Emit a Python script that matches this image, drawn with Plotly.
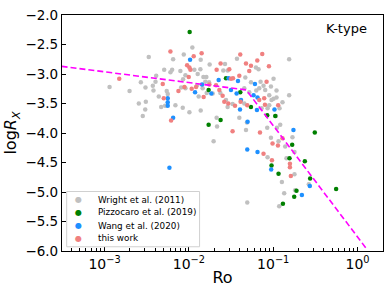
import numpy as np
import plotly.graph_objects as go

# Wright et al. (2011) -- log10(Ro), log(Rx)
wright_logro = [-2.476, -2.187, -2.293, -2.199, -2.219, -2.388, -2.941, -2.570, -2.515, -2.428,
                -2.396, -2.704, -2.263, -2.251, -2.357, -2.511, -2.594, -2.518, -2.329, -2.282,
                -2.547, -2.420,
                -1.959, -2.061, -1.860, -1.754, -2.101, -1.935, -1.864, -2.041, -2.069, -1.828,
                -1.793, -1.761, -1.805, -1.837, -1.903, -2.041, -2.092, -1.884, -1.789, -1.718,
                -1.627, -1.592, -1.572, -1.541, -1.560, -2.160, -2.073, -1.994, -1.860, -1.671,
                -1.541, -1.482, -1.666, -1.707, -1.896,
                -1.430, -0.811, -1.205, -1.174, -0.996, -1.331, -1.264, -1.150, -1.115, -1.027,
                -1.095, -1.166, -1.201, -1.343, -1.284, -0.961, -1.047, -0.996, -0.961, -1.020,
                -0.811, -0.890, -0.925, -1.067, -1.138, -1.343, -1.047, -0.968, -0.917, -1.402,
                -1.311, -1.071, -0.956, -1.323, -1.027, -0.937, -0.772, -0.858, -0.748, -1.067,
                -0.843, -0.748, -0.897, -0.870, -0.740, -0.578, -1.308, -0.929]
wright_logrx = [-2.71, -2.75, -2.93, -2.93, -2.97, -3.03, -3.22, -3.14, -3.23, -3.20,
                -3.13, -3.29, -3.29, -3.34, -3.38, -3.47, -3.50, -3.60, -3.56, -3.54,
                -3.71, -3.28,
                -2.55, -2.67, -2.76, -2.84, -2.95, -2.93, -2.92, -3.02, -3.09, -3.05,
                -3.05, -3.14, -3.13, -3.24, -3.19, -3.24, -3.23, -3.38, -3.32, -3.33,
                -3.32, -2.94, -2.83, -2.94, -3.44, -3.53, -3.57, -3.65, -3.62, -3.74,
                -3.56, -3.51, -3.89, -4.14, -3.00,
                -2.74, -2.75, -2.89, -2.92, -3.08, -3.06, -3.14, -3.13, -3.20, -3.21,
                -3.27, -3.24, -3.28, -3.24, -3.31, -3.28, -3.36, -3.42, -3.40, -3.44,
                -3.36, -3.48, -3.58, -3.58, -3.58, -3.50, -3.53, -3.71, -3.86, -3.74,
                -3.82, -3.91, -3.91, -3.95, -4.08, -4.14, -4.07, -4.23, -4.32, -4.41,
                -4.43, -4.70, -4.83, -5.02, -4.97, -4.87, -5.18, -5.24]

# Pizzocaro et al. (2019)
pizz_logro = [-1.991, -1.560, -1.766, -1.624, -1.766, -1.391, -1.264, -1.071, -0.976, -0.507,
              -0.775, -0.807, -0.625, -1.020, -0.937, -0.562, -0.254, -0.724, -0.751, -0.885]
pizz_logrx = [-2.29, -3.07, -3.27, -3.78, -3.86, -3.31, -3.56, -3.70, -3.71, -3.99,
              -4.20, -4.43, -4.48, -4.55, -4.69, -4.77, -4.95, -4.98, -5.08, -5.20]

# Wang et al. (2020)
wang_logro = [-2.251, -2.251, -2.251, -2.187, -2.231, -1.986, -1.647, -1.529, -1.927, -1.844,
              -1.734, -1.501, -1.418, -1.217, -1.233, -1.186, -1.434, -1.382, -1.394, -1.193,
              -0.985, -1.304, -0.760, -1.308, -1.186, -1.024, -0.566, -0.660]
wang_logrx = [-3.41, -3.48, -3.54, -3.74, -4.59, -2.76, -3.10, -3.07, -3.31, -3.18,
              -3.33, -3.27, -3.12, -3.17, -3.36, -3.40, -3.33, -3.44, -3.60, -3.61,
              -3.60, -3.81, -3.95, -4.28, -4.32, -4.62, -4.90, -5.05]

# this work
this_logro = [-2.219, -2.826, -2.310, -2.298, -2.211, -1.849, -1.943, -2.021, -1.994, -1.982,
              -2.002, -1.624, -1.671, -1.521, -1.501, -1.477, -2.124, -2.053, -1.967, -1.757,
              -1.678, -1.639, -1.600, -1.580, -1.533, -1.825, -1.915,
              -1.391, -1.130, -1.323, -1.264, -1.189, -1.402, -1.284, -1.051, -1.079, -1.107,
              -1.387, -1.308, -1.166, -1.098, -0.941, -1.453,
              -1.482, -1.157, -0.890, -1.008, -0.944, -1.115, -1.015, -0.802, -0.802, -0.791]
this_logrx = [-2.62, -3.08, -3.17, -3.41, -3.79, -2.65, -2.70, -2.85, -2.89, -2.93,
              -3.05, -2.82, -2.93, -2.92, -3.08, -3.07, -3.29, -3.22, -3.25, -3.18,
              -3.19, -3.27, -3.37, -3.47, -3.50, -3.39, -3.22,
              -2.67, -2.66, -2.82, -2.86, -2.77, -3.03, -2.95, -2.87, -3.13, -3.41,
              -3.47, -3.53, -3.44, -3.52, -3.53, -3.54,
              -3.97, -3.99, -4.09, -4.18, -4.21, -4.35, -4.46, -4.52, -4.58, -4.73]

# broken power-law fit
fit_logro = [-3.51, -1.32, 0.10]
fit_logrx = [-2.87, -3.27, -5.95]

# x tick labels
x_tickvals = [1e-3, 1e-2, 1e-1, 1e0]
x_ticktext = ["10<sup>\u22123</sup>", "10<sup>\u22122</sup>", "10<sup>\u22121</sup>", "10<sup>0</sup>"]

series_names = ["Wright et al. (2011)", "Pizzocaro et al. (2019)", "Wang et al. (2020)", "this work"]
series_x = [wright_logro, pizz_logro, wang_logro, this_logro]
series_y = [wright_logrx, pizz_logrx, wang_logrx, this_logrx]
series_colors = ["#c0c0c0", "#008000", "#1e90ff", "#f08080"]

FONT = "DejaVu Sans"
fig = go.Figure()
for name, lx, ly, col in zip(series_names, series_x, series_y, series_colors):
    fig.add_trace(go.Scatter(
        x=10 ** np.array(lx), y=ly, mode="markers", name=name, showlegend=False,
        marker=dict(color=col, size=4.5, line=dict(width=0)),
    ))

fig.add_trace(go.Scatter(
    x=10 ** np.array(fit_logro), y=fit_logrx, mode="lines", showlegend=False,
    line=dict(color="#ff00ff", width=1.6, dash="6px,3px"),
))

fig.add_annotation(text="K-type", xref="paper", yref="paper", x=0.955, y=0.985,
                   xanchor="right", yanchor="top", showarrow=False,
                   font=dict(family=FONT, size=13, color="black"))

# legend box (compact, matplotlib-like)
fig.add_shape(type="rect", xref="paper", yref="paper", x0=0.0146, x1=0.4286, y0=0.018, y1=0.252,
              line=dict(color="#d0d0d0", width=1), fillcolor="rgba(255,255,255,0.8)", layer="above")
leg_y = [0.2176, 0.1632, 0.1075, 0.0531]
for name, col, yy in zip(series_names, series_colors, leg_y):
    fig.add_annotation(text="\u25CF", xref="paper", yref="paper", x=0.0528, y=yy,
                       xanchor="center", yanchor="middle", showarrow=False,
                       font=dict(family=FONT, size=8, color=col))
    fig.add_annotation(text=name, xref="paper", yref="paper", x=0.1056, y=yy,
                       xanchor="left", yanchor="middle", showarrow=False,
                       font=dict(family=FONT, size=8.8, color="black"))

fig.update_layout(
    width=391, height=294,
    margin=dict(l=62, r=7, t=12, b=43),
    paper_bgcolor="white", plot_bgcolor="white",
    font=dict(family=FONT, color="black"),
    showlegend=False,
)
fig.update_xaxes(
    type="log", range=[-3.505, 0.302], tickvals=x_tickvals, ticktext=x_ticktext,
    showgrid=False, zeroline=False, showline=True, linecolor="black", linewidth=1.2,
    mirror=True, ticks="inside", ticklen=4, tickwidth=1, tickcolor="black",
    tickfont=dict(family=FONT, size=14),
    minor=dict(ticks="inside", ticklen=2.5, tickwidth=0.8, tickcolor="black",
               showgrid=False, dtick="D1"),
    title=dict(text="Ro", font=dict(family=FONT, size=16), standoff=0),
)
fig.update_yaxes(
    range=[-6, -2], dtick=0.5, tickformat=".1f",
    showgrid=False, zeroline=False, showline=True, linecolor="black", linewidth=1.2,
    mirror=True, ticks="inside", ticklen=4, tickwidth=1, tickcolor="black",
    tickfont=dict(family=FONT, size=13.5),
    title=dict(text="log<i>R</i><sub><i>X</i></sub>", font=dict(family=FONT, size=16), standoff=4),
)

fig.write_html("out.html", config={"displayModeBar": False},
               post_script="document.body.style.margin='0';document.body.style.overflow='hidden';")
